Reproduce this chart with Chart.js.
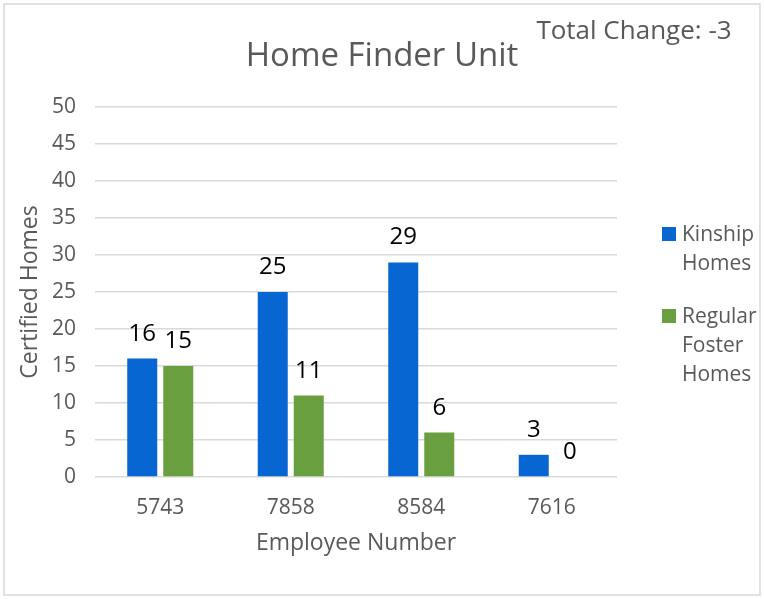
<!DOCTYPE html>
<html><head><meta charset="utf-8">
<script src="https://cdn.jsdelivr.net/npm/chart.js@4/dist/chart.umd.min.js"></script>
<style>html,body{margin:0;padding:0;background:#fff}#wrap{position:relative;width:764px;height:599px}</style>
</head><body><div id="wrap"><canvas id="c" width="764" height="599"></canvas></div>
<script>
const categories = ['5743', '7858', '8584', '7616'];
const kinshipHomes = [16, 25, 29, 3];
const regularFosterHomes = [15, 11, 6, 0];
const seriesNames = ['Kinship Homes', 'Regular Foster Homes'];
const legendLines = [['Kinship', 'Homes'], ['Regular', 'Foster', 'Homes']];
const yTickValues = [0, 5, 10, 15, 20, 25, 30, 35, 40, 45, 50];
const chartTitle = 'Home Finder Unit';
const noteText = 'Total Change: -3';
const xTitle = 'Employee Number';
const yTitle = 'Certified Homes';

const FONT = "'Open Sans', sans-serif";
const GREY = '#595959';
const colors = ['#0766D1', '#6A9F40'];

const framePlugin = {
  id: 'frame',
  beforeDraw(chart) {
    const ctx = chart.ctx;
    ctx.save();
    ctx.fillStyle = '#fff';
    ctx.fillRect(0, 0, chart.width, chart.height);
    ctx.strokeStyle = '#d9d9d9';
    ctx.lineWidth = 1.5;
    ctx.strokeRect(4, 4, chart.width - 8, chart.height - 8);
    ctx.restore();
  }
};

const labelsPlugin = {
  id: 'valueLabels',
  afterDatasetsDraw(chart) {
    const ctx = chart.ctx;
    ctx.save();
    ctx.font = "24px " + FONT;
    ctx.fillStyle = '#000';
    ctx.textAlign = 'center';
    ctx.textBaseline = 'alphabetic';
    chart.data.datasets.forEach((ds, i) => {
      const meta = chart.getDatasetMeta(i);
      meta.data.forEach((el, j) => {
        ctx.fillText(String(ds.data[j]), el.x, el.y - 18);
      });
    });
    ctx.restore();
  }
};

const legendPlugin = {
  id: 'sideLegend',
  afterDraw(chart) {
    const ctx = chart.ctx;
    const area = chart.chartArea;
    const lh = 29, gap = 24, box = 14;
    const totalLines = legendLines.reduce((a, l) => a + l.length, 0);
    const total = totalLines * lh + gap * (legendLines.length - 1);
    let y = (area.top + area.bottom) / 2 + 13 - total / 2;
    const x = area.right + 45;
    ctx.save();
    ctx.font = "21px " + FONT;
    ctx.textBaseline = 'middle';
    ctx.textAlign = 'left';
    legendLines.forEach((lines, i) => {
      ctx.fillStyle = colors[i];
      ctx.fillRect(x, y + lh / 2 - box / 2 - 1, box, box);
      ctx.fillStyle = GREY;
      lines.forEach((t, k) => {
        ctx.fillText(t, x + 20, y + lh / 2 + k * lh);
      });
      y += lines.length * lh + gap;
    });
    ctx.font = "26px " + FONT;
    ctx.textAlign = 'center';
    ctx.fillText(noteText, chart.width - 130, 32);
    ctx.restore();
  }
};

new Chart(document.getElementById('c'), {
  type: 'bar',
  data: {
    labels: categories,
    datasets: [
      { label: seriesNames[0], data: kinshipHomes, backgroundColor: colors[0], categoryPercentage: 0.552, barPercentage: 0.833 },
      { label: seriesNames[1], data: regularFosterHomes, backgroundColor: colors[1], categoryPercentage: 0.552, barPercentage: 0.833 }
    ]
  },
  options: {
    responsive: false,
    animation: false,
    devicePixelRatio: 1,
    layout: { padding: 0 },
    plugins: {
      legend: { display: false },
      tooltip: { enabled: false },
      title: {
        display: true, text: chartTitle, color: GREY,
        font: { family: FONT, size: 33, weight: 'normal', lineHeight: 1.2 },
        padding: { top: 37, bottom: 30.4 }
      }
    },
    scales: {
      x: {
        grid: { display: false },
        border: { display: false },
        ticks: { color: GREY, font: { family: FONT, size: 21 }, padding: 10 },
        title: { display: true, text: xTitle, color: GREY, font: { family: FONT, size: 23 }, padding: { top: 0, bottom: 42 } },
        afterFit(scale) { scale.height = 122; }
      },
      y: {
        min: 0, max: 50,
        afterBuildTicks(scale) { scale.ticks = yTickValues.map(v => ({ value: v })); },
        grid: { color: '#d9d9d9', lineWidth: 1.5, drawTicks: false },
        border: { display: false },
        ticks: { color: GREY, font: { family: FONT, size: 21 }, padding: 19 },
        title: { display: true, text: yTitle, color: GREY, font: { family: FONT, size: 23 }, padding: { top: 17, bottom: 0 } },
        afterFit(scale) { scale.width = 95; }
      },
      legendSpace: {
        type: 'linear', position: 'right', display: true,
        grid: { display: false }, border: { display: false },
        ticks: { display: false },
        afterFit(scale) { scale.width = 147; }
      }
    }
  },
  plugins: [framePlugin, labelsPlugin, legendPlugin]
});
</script></body></html>
